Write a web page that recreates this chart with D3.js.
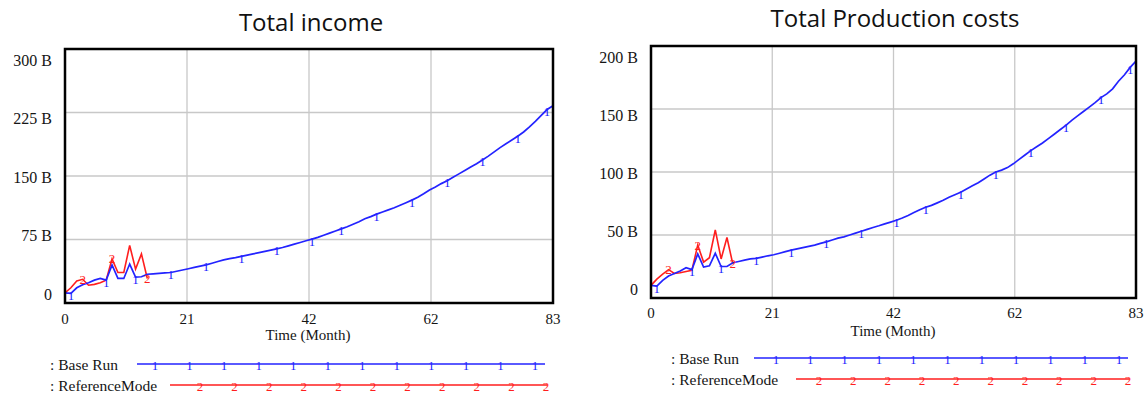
<!DOCTYPE html>
<html>
<head>
<meta charset="utf-8">
<script src="https://cdn.jsdelivr.net/npm/d3@7"></script>
<style>
  html, body { margin: 0; padding: 0; background: #ffffff; }
  svg { display: block; }
</style>
</head>
<body>
<svg id="chart" width="1147" height="394"></svg>
<script>
// ---- data ---------------------------------------------------------------
// Monthly simulation output, billions (months 0..83)
const incomeBaseRun = [
  12, 11.5, 18, 21.5, 24, 27, 29, 27, 45, 29,
  29, 46, 30.5, 31, 34, 34.5, 35, 35.5, 36, 37.5,
  39, 40.5, 42, 43.5, 45, 47, 49, 51, 52.5, 53.5,
  55, 56.5, 58, 59.5, 61, 62.5, 64, 65.5, 67.5, 69.5,
  71.5, 73.5, 75.5, 77.5, 80, 82.5, 85, 87.5, 90, 93,
  96, 99.5, 102, 105, 107.5, 110, 112.5, 115.5, 118.5, 121.5,
  125, 129, 133.5, 137, 141, 144.5, 148.5, 152.5, 156.5, 160.5,
  164.5, 169, 173.5, 178.5, 183.5, 188, 192.5, 197, 202, 208,
  214.5, 221.5, 228.5, 233
];
const incomeReference = [12, 18, 26, 28, 21, 22, 24, 27, 52, 36, 36, 68, 40, 58, 29];

const costBaseRun = [
  10, 9.5, 14, 17.5, 19.5, 21.5, 24, 22.5, 35, 24.5,
  25.5, 35.5, 25, 25, 28, 29, 30, 31, 31.5, 32.5,
  33.5, 34.3, 35.5, 36.8, 38, 39, 40, 41, 42, 43.3,
  44.5, 46, 47.5, 48.5, 50, 51.5, 53, 54.5, 56, 57.3,
  58.8, 60.2, 61.7, 63.5, 65.5, 67.8, 70, 72, 73.5, 75.5,
  77.5, 80, 82, 84, 86.5, 89, 91.5, 94.5, 97.5, 100,
  101.5, 103.5, 106.5, 110, 113.5, 117, 120, 123, 126.5, 130,
  133.5, 137, 141, 144.5, 148, 151.5, 155, 159, 162, 166,
  172, 177, 183, 188
];
const costReference = [10, 15, 19, 22.5, 19.5, 20, 21, 22, 42, 28.5, 32, 54, 31, 48, 27];

// Months where the run markers sit
const baseRunMarkerMonths = [1, 7, 12, 18, 24, 30, 36, 42, 47, 53, 59, 65, 71, 77, 82];
const referenceMarkerMonths = [3, 8, 14];

// Axes
const timeGrid = [0, 20.75, 41.5, 62.25, 83];
const timeLabels = ["0", "21", "42", "62", "83"];
const incomeTicks = [0, 75, 150, 225, 300];
const incomeTickLabels = ["0", "75 B", "150 B", "225 B", "300 B"];
const costTicks = [0, 50, 100, 150, 200];
const costTickLabels = ["0", "50 B", "100 B", "150 B", "200 B"];

const seriesNames = [": Base Run", ": ReferenceMode"];

// ---- drawing ------------------------------------------------------------
const svg = d3.select("#chart");
const BLUE = "#2323ff";
const RED = "#ff1e1e";
const SERIF = "Liberation Serif";
const SANS = "Open Sans";

function label(sel, size, fill) {
  return sel.attr("font-family", SERIF).attr("font-size", size).attr("fill", fill || "#151515")
    .attr("dominant-baseline", "central");
}

function drawPanel(p) {
  const g = svg.append("g");
  const x = d3.scaleLinear().domain([0, 83]).range([p.left, p.right]);
  const y = d3.scaleLinear().domain([0, p.yMax]).range([p.bottom, p.top]);
  // value labels sit on a slightly compressed ladder beside the grid
  const yLab = d3.scaleLinear().domain([0, p.yMax]).range([p.bottom - 9, p.top + 11]);

  // title
  g.append("text")
    .attr("x", p.titleX).attr("y", p.titleY)
    .attr("text-anchor", "middle").attr("dominant-baseline", "central")
    .attr("font-family", SANS).attr("font-size", 24).attr("fill", "#111")
    .text(p.title);

  // grid
  g.append("g").selectAll("line").data(p.ticks).join("line")
    .attr("x1", p.left).attr("x2", p.right)
    .attr("y1", d => y(d)).attr("y2", d => y(d))
    .attr("stroke", "#c8c8c8").attr("stroke-width", 1.3);
  g.append("g").selectAll("line").data(timeGrid).join("line")
    .attr("x1", d => x(d)).attr("x2", d => x(d))
    .attr("y1", p.top).attr("y2", p.bottom)
    .attr("stroke", "#c8c8c8").attr("stroke-width", 1.3);

  // y labels
  g.append("g").selectAll("text").data(p.ticks).join("text")
    .call(label, 16)
    .attr("x", p.left - 13).attr("y", d => yLab(d))
    .attr("text-anchor", "end")
    .text((d, i) => p.tickLabels[i]);

  // x labels
  g.append("g").selectAll("text").data(timeGrid).join("text")
    .call(label, 15)
    .attr("x", d => x(d)).attr("y", p.xLabelY)
    .attr("text-anchor", "middle")
    .text((d, i) => timeLabels[i]);

  g.append("text")
    .call(label, 15)
    .attr("x", p.axisTitleX).attr("y", p.axisTitleY)
    .attr("text-anchor", "middle")
    .text("Time (Month)");

  // series
  const line = d3.line().x((d, i) => x(i)).y(d => y(d));
  g.append("path").datum(p.reference).attr("d", line)
    .attr("fill", "none").attr("stroke", RED).attr("stroke-width", 1.6);
  g.append("path").datum(p.base).attr("d", line)
    .attr("fill", "none").attr("stroke", BLUE).attr("stroke-width", 1.7);

  g.append("g").selectAll("text").data(baseRunMarkerMonths).join("text")
    .call(label, 13, BLUE)
    .attr("x", d => x(d)).attr("y", d => y(p.base[d]) + 2)
    .attr("text-anchor", "middle")
    .text("1");
  g.append("g").selectAll("text").data(referenceMarkerMonths).join("text")
    .call(label, 13, RED)
    .attr("x", d => x(d)).attr("y", d => y(p.reference[d]))
    .attr("text-anchor", "middle")
    .text("2");

  // frame
  g.append("rect")
    .attr("x", p.left).attr("y", p.top)
    .attr("width", p.right - p.left).attr("height", p.bottom - p.top)
    .attr("fill", "none").attr("stroke", "#000").attr("stroke-width", 2.5);

  // legend
  const leg = g.append("g");
  p.legend.forEach((L, k) => {
    const col = k === 0 ? BLUE : RED;
    leg.append("text")
      .call(label, 15.5)
      .attr("x", p.legendTextX).attr("y", L.y)
      .text(seriesNames[k]);
    leg.append("line")
      .attr("x1", L.x1).attr("x2", L.x2).attr("y1", L.y).attr("y2", L.y)
      .attr("stroke", col).attr("stroke-width", 1.6);
    const step = (L.mLast - L.mFirst) / (L.mCount - 1);
    leg.append("g").selectAll("text").data(d3.range(L.mCount)).join("text")
      .call(label, 13, col)
      .attr("x", i => L.mFirst + i * step).attr("y", L.y + 1)
      .attr("text-anchor", "middle")
      .text(k === 0 ? "1" : "2");
  });
}

drawPanel({
  title: "Total income", titleX: 311, titleY: 21,
  left: 65, right: 553, top: 49, bottom: 303,
  yMax: 300, ticks: incomeTicks, tickLabels: incomeTickLabels,
  base: incomeBaseRun, reference: incomeReference,
  xLabelY: 319, axisTitleX: 308, axisTitleY: 335,
  legendTextX: 50,
  legend: [
    { y: 364, x1: 137, x2: 545, mFirst: 155, mLast: 535, mCount: 12 },
    { y: 385, x1: 170, x2: 547, mFirst: 200, mLast: 546, mCount: 11 }
  ]
});

drawPanel({
  title: "Total Production costs", titleX: 895, titleY: 17,
  left: 651, right: 1136, top: 46, bottom: 298,
  yMax: 200, ticks: costTicks, tickLabels: costTickLabels,
  base: costBaseRun, reference: costReference,
  xLabelY: 313, axisTitleX: 893, axisTitleY: 331,
  legendTextX: 671,
  legend: [
    { y: 358, x1: 754, x2: 1128, mFirst: 776, mLast: 1119, mCount: 11 },
    { y: 379, x1: 796, x2: 1129, mFirst: 819, mLast: 1128, mCount: 10 }
  ]
});
</script>
</body>
</html>
